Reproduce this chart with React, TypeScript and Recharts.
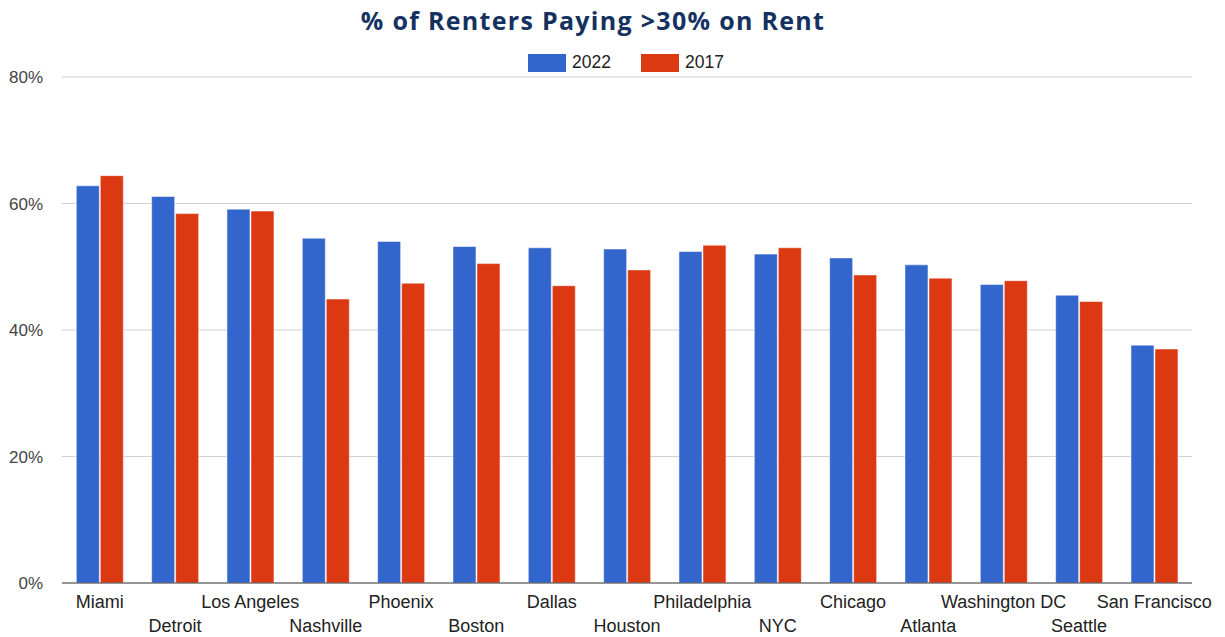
import { BarChart, Bar, XAxis, YAxis, CartesianGrid } from 'recharts';

const CITIES = [
  'Miami', 'Detroit', 'Los Angeles', 'Nashville', 'Phoenix', 'Boston', 'Dallas', 'Houston',
  'Philadelphia', 'NYC', 'Chicago', 'Atlanta', 'Washington DC', 'Seattle', 'San Francisco',
];
const VALUES_2022 = [62.8, 61.1, 59.1, 54.5, 54.0, 53.2, 53.0, 52.8, 52.4, 52.0, 51.4, 50.3, 47.2, 45.5, 37.6];
const VALUES_2017 = [64.4, 58.4, 58.8, 44.9, 47.4, 50.5, 47.0, 49.5, 53.4, 53.0, 48.7, 48.2, 47.8, 44.5, 37.0];
const Y_TICKS = [0, 20, 40, 60, 80];

const BLUE = '#3366cc';
const RED = '#dc3912';
const FONT = 'Liberation Sans, Arial, sans-serif';

const data = CITIES.map((city, i) => ({ city, y2022: VALUES_2022[i], y2017: VALUES_2017[i] }));

// city labels alternate between two rows so they don't collide
function CityTick(props: any) {
  const { x, y, payload, index } = props;
  return (
    <text
      x={x}
      y={y + (index % 2 === 0 ? 23 : 47)}
      textAnchor="middle"
      fill="#222"
      fontSize={18}
      fontFamily={FONT}
    >
      {payload.value}
    </text>
  );
}

function LegendBox() {
  const items = [
    { label: '2022', color: BLUE },
    { label: '2017', color: RED },
  ];
  return (
    <div style={{ position: 'absolute', left: 528, top: 52, display: 'flex', gap: 30, fontFamily: FONT, fontSize: 17.5, color: '#222' }}>
      {items.map((it) => (
        <div key={it.label} style={{ display: 'flex', alignItems: 'center', gap: 6 }}>
          <span style={{ display: 'inline-block', width: 38, height: 18, background: it.color }} />
          <span>{it.label}</span>
        </div>
      ))}
    </div>
  );
}

export default function App() {
  return (
    <div style={{ position: 'absolute', left: 0, top: 0, width: 1225, height: 637, background: '#fff' }}>
      <BarChart
        width={1225}
        height={637}
        data={data}
        margin={{ top: 77, right: 33, bottom: 0, left: 0 }}
        barCategoryGap="19%"
        barGap={1}
      >
        <CartesianGrid vertical={false} stroke="#d0d0d0" />
        <XAxis
          dataKey="city"
          interval={0}
          tickLine={false}
          tickSize={0}
          tick={<CityTick />}
          height={54}
          axisLine={{ stroke: '#444' }}
        />
        <YAxis
          domain={[0, 80]}
          ticks={Y_TICKS}
          width={62}
          axisLine={false}
          tickLine={false}
          tickSize={0}
          tickMargin={19}
          tickFormatter={(v) => `${v}%`}
          tick={{ fill: '#444', fontSize: 17, fontFamily: FONT }}
        />
        <Bar dataKey="y2022" name="2022" fill={BLUE} stroke="#ffffff" strokeOpacity={0.5} isAnimationActive={false} />
        <Bar dataKey="y2017" name="2017" fill={RED} stroke="#ffffff" strokeOpacity={0.5} isAnimationActive={false} />
      </BarChart>
      <div
        style={{
          position: 'absolute', left: 0, top: 3, width: 1186, textAlign: 'center',
          fontFamily: 'Open Sans, sans-serif', fontWeight: 700, fontSize: 25, letterSpacing: 1.3, color: '#14315f',
        }}
      >
        % of Renters Paying &gt;30% on Rent
      </div>
      <LegendBox />
    </div>
  );
}
